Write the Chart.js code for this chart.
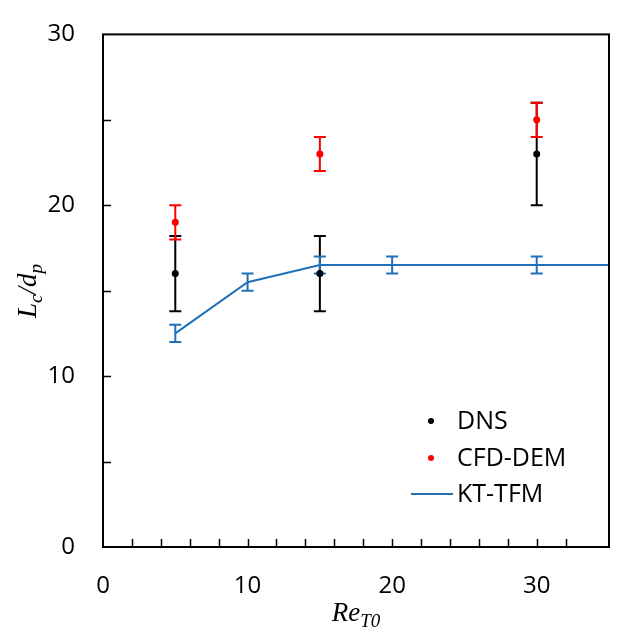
<!DOCTYPE html>
<html>
<head>
<meta charset="utf-8">
<script src="https://cdn.jsdelivr.net/npm/chart.js@4.4.0/dist/chart.umd.min.js"></script>
<style>
html,body{margin:0;padding:0;background:#fff;}
#wrap{width:639px;height:635px;}
</style>
</head>
<body>
<div id="wrap"><canvas id="c"></canvas></div>
<script>
// data
const dnsX = [5, 15, 30];
const dnsY = [16, 16, 23];
const dnsErr = [2.2, 2.2, 3];
const cfdX = [5, 15, 30];
const cfdY = [19, 23, 25];
const cfdErr = [1, 1, 1];
const ktX = [5, 10, 15, 20, 30, 35];
const ktY = [12.5, 15.5, 16.5, 16.5, 16.5, 16.5];
const ktErr = [0.5, 0.5, 0.5, 0.5, 0.5, 0];
const xLabels = [0, 10, 20, 30];
const yLabels = [0, 10, 20, 30];

const tickFont = "'Open Sans', sans-serif";
const pts = (xs, ys) => xs.map((x, i) => ({x: x, y: ys[i]}));

// error bars, drawn before points so the dots sit on top
const errBars = {
  id: "errBars",
  beforeDatasetsDraw(chart) {
    const c = chart.ctx, xs = chart.scales.x, ys = chart.scales.y;
    chart.data.datasets.forEach(ds => {
      if (!ds.err) return;
      c.save();
      c.strokeStyle = ds.errColor; c.lineWidth = 2;
      ds.data.forEach((p, i) => {
        const e = ds.err[i];
        if (!e) return;
        const px = xs.getPixelForValue(p.x);
        const y1 = ys.getPixelForValue(p.y + e), y2 = ys.getPixelForValue(p.y - e);
        c.beginPath();
        c.moveTo(px, y1); c.lineTo(px, y2);
        c.moveTo(px - 6, y1); c.lineTo(px + 6, y1);
        c.moveTo(px - 6, y2); c.lineTo(px + 6, y2);
        c.stroke();
      });
      c.restore();
    });
  }
};

// frame, inward ticks, axis titles and legend
const frame = {
  id: "frame",
  afterDraw(chart) {
    const c = chart.ctx, a = chart.chartArea, xs = chart.scales.x, ys = chart.scales.y;
    c.save();
    c.strokeStyle = "#000"; c.lineWidth = 2;
    c.strokeRect(a.left, a.top, a.right - a.left, a.bottom - a.top);
    c.lineWidth = 1.5;
    c.beginPath();
    xs.ticks.forEach(t => {
      const px = Math.round(xs.getPixelForValue(t.value)) + 0.5;
      if (t.value <= 0 || t.value >= 35) return;
      c.moveTo(px, a.bottom); c.lineTo(px, a.bottom - 8);
    });
    ys.ticks.forEach(t => {
      const py = Math.round(ys.getPixelForValue(t.value)) + 0.5;
      if (t.value <= 0 || t.value >= 30) return;
      c.moveTo(a.left, py); c.lineTo(a.left + 8, py);
    });
    c.stroke();

    c.fillStyle = "#000";
    c.textBaseline = "alphabetic";
    // x title Re_T0
    const big = "italic 27px 'Liberation Serif', serif", small = "italic 19px 'Liberation Serif', serif";
    c.font = big;
    const wRe = c.measureText("Re").width;
    c.font = small;
    const wT = c.measureText("T0").width;
    let x0 = (a.left + a.right) / 2 - (wRe + wT) / 2;
    c.font = big; c.textAlign = "left";
    c.fillText("Re", x0, 621);
    c.font = small;
    c.fillText("T0", x0 + wRe, 627);

    // y title L_c/d_p, rotated
    c.translate(36, 291);
    c.rotate(-Math.PI / 2);
    const parts = [["L", big, 0], ["c", small, 6], ["/d", big, 0], ["p", small, 6]];
    let tw = 0;
    parts.forEach(p => { c.font = p[1]; tw += c.measureText(p[0]).width; });
    let cx = -tw / 2;
    parts.forEach(p => {
      c.font = p[1];
      c.fillText(p[0], cx, p[2]);
      cx += c.measureText(p[0]).width;
    });
    c.setTransform(1, 0, 0, 1, 0, 0);
    c.scale(chart.currentDevicePixelRatio, chart.currentDevicePixelRatio);

    // legend
    c.font = "25px " + tickFont;
    c.textBaseline = "middle";
    const rows = [
      {label: "DNS", color: "#000", kind: "dot", y: 421},
      {label: "CFD-DEM", color: "#ff0000", kind: "dot", y: 458},
      {label: "KT-TFM", color: "#1f70b8", kind: "line", y: 494}
    ];
    rows.forEach(r => {
      if (r.kind === "dot") {
        c.fillStyle = r.color;
        c.beginPath(); c.arc(431, r.y, 3, 0, Math.PI * 2); c.fill();
      } else {
        c.strokeStyle = r.color; c.lineWidth = 2;
        c.beginPath(); c.moveTo(411, r.y); c.lineTo(453, r.y); c.stroke();
      }
      c.fillStyle = "#000";
      c.fillText(r.label, 457, r.y + 1);
    });
    c.restore();
  }
};

new Chart(document.getElementById("c"), {
  type: "scatter",
  data: {
    datasets: [
      {label: "DNS", data: pts(dnsX, dnsY), err: dnsErr, errColor: "#000",
       backgroundColor: "#000", borderColor: "#000", pointRadius: 3.5, pointBorderWidth: 0},
      {label: "CFD-DEM", data: pts(cfdX, cfdY), err: cfdErr, errColor: "#ff0000",
       backgroundColor: "#ff0000", borderColor: "#ff0000", pointRadius: 3.5, pointBorderWidth: 0},
      {label: "KT-TFM", data: pts(ktX, ktY), err: ktErr, errColor: "#1f70b8",
       showLine: true, borderColor: "#1f70b8", borderWidth: 2, pointRadius: 0, tension: 0}
    ]
  },
  options: {
    responsive: true,
    maintainAspectRatio: false,
    animation: false,
    layout: {padding: {left: 0, top: 26, right: 30, bottom: 0}},
    plugins: {legend: {display: false}, tooltip: {enabled: false}},
    scales: {
      x: {
        type: "linear", min: 0, max: 35,
        grid: {display: false},
        border: {display: false},
        ticks: {
          stepSize: 2, autoSkip: false, maxRotation: 0, padding: 17,
          color: "#000", font: {family: tickFont, size: 24},
          callback: v => xLabels.includes(v) ? String(v) : ""
        },
        afterFit: s => { s.height = 88; }
      },
      y: {
        type: "linear", min: 0, max: 30,
        grid: {display: false},
        border: {display: false},
        ticks: {
          stepSize: 5, autoSkip: false, padding: 20,
          color: "#000", font: {family: tickFont, size: 24},
          callback: v => yLabels.includes(v) ? String(v) : ""
        },
        afterFit: s => { s.width = 103; }
      }
    }
  },
  plugins: [errBars, frame]
});
</script>
</body>
</html>
